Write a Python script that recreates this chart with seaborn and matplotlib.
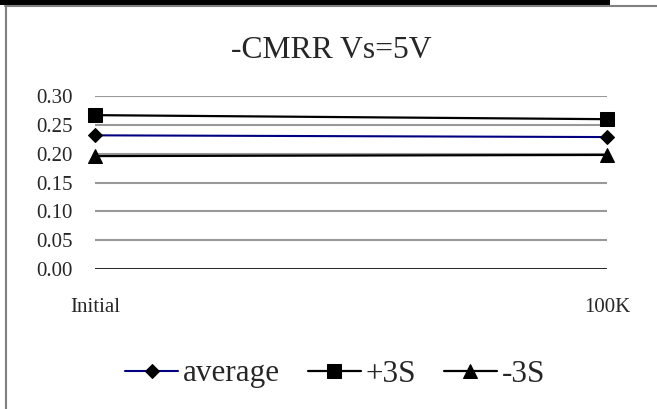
import matplotlib
matplotlib.use("Agg")
from matplotlib import pyplot as plt
from matplotlib.lines import Line2D
from matplotlib.patches import Rectangle
import pandas as pd
import seaborn as sns

# values
stages = ["Initial", "100K"]
average = [0.232, 0.229]
plus_3s = [0.267, 0.260]
minus_3s = [0.196, 0.198]
y_ticks = [0.00, 0.05, 0.10, 0.15, 0.20, 0.25, 0.30]

sns.set_style("white")
plt.rcParams["font.family"] = ["Liberation Serif", "DejaVu Serif"]

fig = plt.figure(figsize=(6.57, 4.09), dpi=100)
ax = fig.add_axes([0.1446, 0.342, 0.779, 0.423])

df = pd.DataFrame({"stage": stages, "average": average,
                   "+3S": plus_3s, "-3S": minus_3s})

# gridlines first so the series sit on top
for t in y_ticks[1:]:
    ax.axhline(t, color="#999999", lw=1.5, zorder=1)
ax.axhline(0, color="black", lw=1.2, zorder=2)

sns.lineplot(data=df, x="stage", y="average", ax=ax, color="#000080", lw=1.5,
             marker="D", ms=7, mfc="black", mec="black", clip_on=False,
             label="average", zorder=3)
sns.lineplot(data=df, x="stage", y="+3S", ax=ax, color="black", lw=1.6,
             marker="s", ms=10, mfc="black", mec="black", clip_on=False,
             label="+3S", zorder=3)
sns.lineplot(data=df, x="stage", y="-3S", ax=ax, color="black", lw=1.6,
             marker="^", ms=10, mfc="black", mec="black", clip_on=False,
             label="-3S", zorder=3)

ax.set_xlim(0, 1)
ax.set_ylim(0, 0.30)
ax.set_yticks(y_ticks)
ax.set_yticklabels([f"{t:.2f}" for t in y_ticks], fontsize=15)
ax.set_xticks([0, 1])
ax.set_xticklabels(stages, fontsize=15)
ax.tick_params(axis="x", length=0, pad=21)
ax.tick_params(axis="y", length=0, pad=16)
ax.set_xlabel("")
ax.set_ylabel("")
for s in ax.spines.values():
    s.set_visible(False)

fig.text(0.505, 1 - 58 / 409, "-CMRR Vs=5V", ha="center", va="baseline",
         fontsize=22.8)

ax.get_legend().remove()
leg = fig.legend(loc="center", bbox_to_anchor=(0.51, 1 - 374 / 409), ncol=3,
                 frameon=False, fontsize=22.4, handlelength=1.7,
                 handletextpad=0.15, columnspacing=0.9)

# frame pieces around the chart area
fig.add_artist(Rectangle((0, 1 - 4.5 / 409), 610 / 657, 4.5 / 409,
                         transform=fig.transFigure, color="black", lw=0))
fig.add_artist(Line2D([5 / 657, 1], [1 - 6 / 409, 1 - 6 / 409],
                      transform=fig.transFigure, color="#808080", lw=1.5))
fig.add_artist(Line2D([5.5 / 657, 5.5 / 657], [0, 1 - 6 / 409],
                      transform=fig.transFigure, color="#808080", lw=1.5))

fig.savefig("out.png", dpi=100)
